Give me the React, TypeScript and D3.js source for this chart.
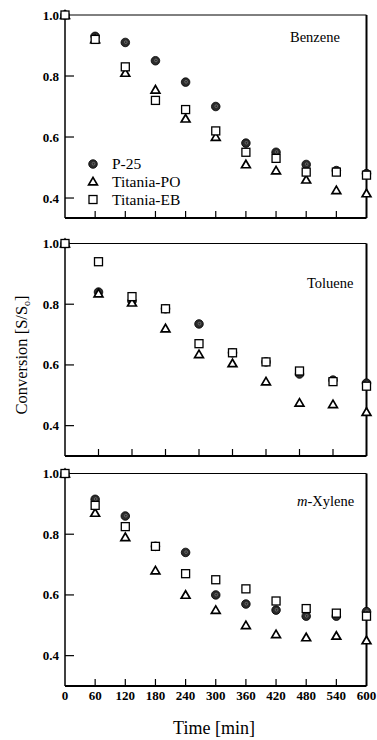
import React from "react";
import * as d3 from "d3";

const seriesNames = ["P-25", "Titania-PO", "Titania-EB"];

const benzeneTimes = [0, 60, 120, 180, 240, 300, 360, 420, 480, 540, 600];
const benzeneP25 = [1.0, 0.93, 0.91, 0.85, 0.78, 0.70, 0.58, 0.55, 0.51, 0.49, 0.48];
const benzenePO = [1.0, 0.92, 0.81, 0.755, 0.66, 0.60, 0.51, 0.49, 0.46, 0.425, 0.415];
const benzeneEB = [1.0, 0.92, 0.83, 0.72, 0.69, 0.62, 0.55, 0.53, 0.485, 0.485, 0.475];

const tolueneTimes = [0, 60, 120, 180, 240, 300, 360, 420, 480, 540];
const tolueneP25 = [1.0, 0.84, 0.81, 0.785, 0.735, 0.64, 0.61, 0.57, 0.55, 0.54];
const toluenePO = [1.0, 0.835, 0.805, 0.72, 0.635, 0.605, 0.545, 0.475, 0.47, 0.445];
const tolueneEB = [1.0, 0.94, 0.825, 0.785, 0.67, 0.64, 0.61, 0.58, 0.545, 0.53];

const xyleneTimes = [0, 60, 120, 180, 240, 300, 360, 420, 480, 540, 600];
const xyleneP25 = [1.0, 0.915, 0.86, 0.76, 0.74, 0.60, 0.57, 0.55, 0.53, 0.53, 0.545];
const xylenePO = [1.0, 0.87, 0.79, 0.68, 0.60, 0.55, 0.50, 0.47, 0.46, 0.465, 0.45];
const xyleneEB = [1.0, 0.895, 0.825, 0.76, 0.67, 0.65, 0.62, 0.58, 0.555, 0.54, 0.53];

const yTickValues = [0.4, 0.6, 0.8, 1.0];
const xTickLabels = [0, 60, 120, 180, 240, 300, 360, 420, 480, 540, 600];

const FONT = "'Liberation Serif', 'DejaVu Serif', serif";

type Panel = {
  name: string;
  italicPrefix?: string;
  times: number[];
  p25: number[];
  po: number[];
  eb: number[];
  xMax: number;
  yMin: number;
  top: number;
  bottom: number;
  labelX: number;
  labelY: number;
  legend?: boolean;
  xLabels?: boolean;
};

const panels: Panel[] = [
  { name: "Benzene", times: benzeneTimes, p25: benzeneP25, po: benzenePO, eb: benzeneEB, xMax: 600, yMin: 0.3345, top: 15, bottom: 218, labelX: 290, labelY: 42, legend: true },
  { name: "Toluene", times: tolueneTimes, p25: tolueneP25, po: toluenePO, eb: tolueneEB, xMax: 540, yMin: 0.3, top: 243.5, bottom: 456, labelX: 307, labelY: 288 },
  { name: "-Xylene", italicPrefix: "m", times: xyleneTimes, p25: xyleneP25, po: xylenePO, eb: xyleneEB, xMax: 600, yMin: 0.3, top: 473.5, bottom: 686, labelX: 297, labelY: 506, xLabels: true },
];

const LEFT = 65;
const RIGHT = 366.5;

const Circle = ({ x, y }: { x: number; y: number }) => (
  <g>
    <circle cx={x} cy={y} r={4.3} fill="#2b2b2b" stroke="#000" strokeWidth={0.8} />
    <circle cx={x + 0.5} cy={y - 0.3} r={1.4} fill="none" stroke="#888" strokeWidth={0.6} />
  </g>
);
const Tri = ({ x, y }: { x: number; y: number }) => (
  <path d={`M${x},${y - 4.2}L${x + 4.4},${y + 3.3}L${x - 4.4},${y + 3.3}Z`} fill="#fff" stroke="#000" strokeWidth={1.7} strokeLinejoin="miter" />
);
const Sq = ({ x, y }: { x: number; y: number }) => (
  <rect x={x - 4} y={y - 4} width={8} height={8} fill="#fff" stroke="#000" strokeWidth={1.3} />
);

function PanelView({ p }: { p: Panel }) {
  const x = d3.scaleLinear().domain([0, p.xMax]).range([LEFT, RIGHT]);
  const y = d3.scaleLinear().domain([p.yMin, 1]).range([p.bottom, p.top]);
  const xTicks = d3.range(60, p.xMax, 60);
  const legendY = [y(0.4) - 34, y(0.4) - 16.5, y(0.4) + 1.5];
  return (
    <g>
      <line x1={LEFT} x2={RIGHT} y1={p.top} y2={p.top} stroke="#000" strokeWidth={1} />
      <line x1={LEFT} x2={LEFT} y1={p.top} y2={p.bottom} stroke="#000" strokeWidth={1.5} />
      <line x1={RIGHT} x2={RIGHT} y1={p.top} y2={p.bottom} stroke="#000" strokeWidth={2} />
      <line x1={LEFT} x2={RIGHT} y1={p.bottom} y2={p.bottom} stroke="#000" strokeWidth={2} />
      {xTicks.map((t) => (
        <line key={t} x1={x(t)} x2={x(t)} y1={p.bottom} y2={p.bottom - 7} stroke="#000" strokeWidth={1.2} />
      ))}
      {yTickValues.filter((v) => v < 1).map((v) => (
        <line key={v} x1={LEFT} x2={LEFT + 9} y1={y(v)} y2={y(v)} stroke="#000" strokeWidth={1.2} />
      ))}
      {yTickValues.map((v) => (
        <text key={v} x={59} y={y(v) + 4.5} textAnchor="end" fontFamily={FONT} fontSize={13} fontWeight={600}>
          {v.toFixed(1)}
        </text>
      ))}
      {p.xLabels &&
        xTickLabels.map((t) => (
          <text key={t} x={x(t)} y={p.bottom + 13.5} textAnchor="middle" fontFamily={FONT} fontSize={13} fontWeight={600}>
            {t}
          </text>
        ))}
      <text x={p.labelX} y={p.labelY} fontFamily={FONT} fontSize={14.5}>
        {p.italicPrefix && <tspan fontStyle="italic">{p.italicPrefix}</tspan>}
        {p.name}
      </text>
      {p.times.map((t, i) => (
        <Circle key={"c" + t} x={x(t)} y={y(p.p25[i])} />
      ))}
      {p.times.map((t, i) => (
        <Tri key={"t" + t} x={x(t)} y={y(p.po[i])} />
      ))}
      {p.times.map((t, i) => (
        <Sq key={"s" + t} x={x(t)} y={y(p.eb[i])} />
      ))}
      {p.legend && (
        <g>
          <Circle x={93} y={legendY[0]} />
          <Tri x={93} y={legendY[1]} />
          <Sq x={93} y={legendY[2]} />
          {seriesNames.map((n, i) => (
            <text key={n} x={112} y={legendY[i] + 5.3} fontFamily={FONT} fontSize={15.5}>
              {n}
            </text>
          ))}
        </g>
      )}
    </g>
  );
}

export default function App() {
  return (
    <svg width={377} height={740} style={{ position: "absolute", left: 0, top: 0, background: "#fff" }}>
      <rect width={377} height={740} fill="#fff" />
      {panels.map((p) => (
        <PanelView key={p.name} p={p} />
      ))}
      <text transform="translate(27,355) rotate(-90)" textAnchor="middle" fontFamily={FONT} fontSize={16.5}>
        Conversion [S/S<tspan fontSize={10} dy={3}>o</tspan>
        <tspan dy={-3}>]</tspan>
      </text>
      <text x={214} y={734} textAnchor="middle" fontFamily={FONT} fontSize={18}>
        Time [min]
      </text>
    </svg>
  );
}
